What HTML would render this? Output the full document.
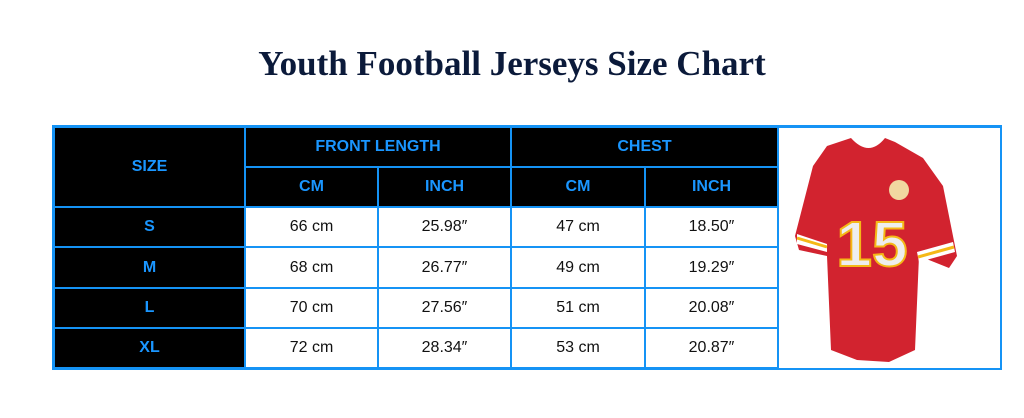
<!DOCTYPE html>
<html><head><style>
body{margin:0;width:1024px;height:418px;background:#fff;position:relative;overflow:hidden;font-family:"Liberation Sans",sans-serif}
.t{position:absolute;top:44px;left:0;width:1024px;text-align:center;font:bold 35px "Liberation Serif",serif;color:#0b1a3a}
.c{position:absolute;box-sizing:border-box;border:2px solid #1593f5;display:flex;align-items:center;justify-content:center;font-size:16px}
.h{background:#000;color:#1a96ff;font-weight:bold}
.d{background:#fff;color:#111}
</style></head><body>
<div class="t">Youth Football Jerseys Size Chart</div>
<div style="position:absolute;left:52px;top:125px;width:950px;height:245px;border:2px solid #1593f5;box-sizing:border-box"></div>
<div class="c h" style="left:53px;top:126px;width:193px;height:82px">SIZE</div>
<div class="c h" style="left:244px;top:126px;width:268px;height:42px">FRONT LENGTH</div>
<div class="c h" style="left:510px;top:126px;width:269px;height:42px">CHEST</div>
<div class="c h" style="left:244px;top:166px;width:135px;height:42px">CM</div>
<div class="c h" style="left:377px;top:166px;width:135px;height:42px">INCH</div>
<div class="c h" style="left:510px;top:166px;width:136px;height:42px">CM</div>
<div class="c h" style="left:644px;top:166px;width:135px;height:42px">INCH</div>

<div class="c h" style="left:53px;top:206px;width:193px;height:42px">S</div>
<div class="c d" style="left:244px;top:206px;width:135px;height:42px">66 cm</div>
<div class="c d" style="left:377px;top:206px;width:135px;height:42px">25.98″</div>
<div class="c d" style="left:510px;top:206px;width:136px;height:42px">47 cm</div>
<div class="c d" style="left:644px;top:206px;width:135px;height:42px">18.50″</div>

<div class="c h" style="left:53px;top:246px;width:193px;height:43px">M</div>
<div class="c d" style="left:244px;top:246px;width:135px;height:43px">68 cm</div>
<div class="c d" style="left:377px;top:246px;width:135px;height:43px">26.77″</div>
<div class="c d" style="left:510px;top:246px;width:136px;height:43px">49 cm</div>
<div class="c d" style="left:644px;top:246px;width:135px;height:43px">19.29″</div>

<div class="c h" style="left:53px;top:287px;width:193px;height:42px">L</div>
<div class="c d" style="left:244px;top:287px;width:135px;height:42px">70 cm</div>
<div class="c d" style="left:377px;top:287px;width:135px;height:42px">27.56″</div>
<div class="c d" style="left:510px;top:287px;width:136px;height:42px">51 cm</div>
<div class="c d" style="left:644px;top:287px;width:135px;height:42px">20.08″</div>

<div class="c h" style="left:53px;top:327px;width:193px;height:42px">XL</div>
<div class="c d" style="left:244px;top:327px;width:135px;height:42px">72 cm</div>
<div class="c d" style="left:377px;top:327px;width:135px;height:42px">28.34″</div>
<div class="c d" style="left:510px;top:327px;width:136px;height:42px">53 cm</div>
<div class="c d" style="left:644px;top:327px;width:135px;height:42px">20.87″</div>

<div class="c d" style="left:777px;top:126px;width:225px;height:244px"></div>
<svg style="position:absolute;left:777px;top:126px" width="224" height="243">
<path d="M74 12 L50 20 L36 40 L18 110 L22 124 L50 130 L54 224 L80 234 L112 236 L138 224 L142 130 L172 142 L180 130 L166 60 L146 32 L118 16 L108 12 Q92 32 74 12Z" fill="#d2232f"/>
<path d="M20 108 L50 118 L50 126 L20 118Z" fill="#fff"/>
<path d="M20 112 L50 121" stroke="#f5b817" stroke-width="3"/>
<path d="M140 126 L176 116 L178 126 L142 136Z" fill="#fff"/>
<path d="M141 131 L177 121" stroke="#f5b817" stroke-width="3"/>
<circle cx="122" cy="64" r="10" fill="#f1d7a0"/>
<text x="95" y="140" font-family="Liberation Sans" font-weight="bold" font-size="64" fill="#eee" stroke="#f5b817" stroke-width="2" text-anchor="middle">15</text>
</svg>
</body></html>
